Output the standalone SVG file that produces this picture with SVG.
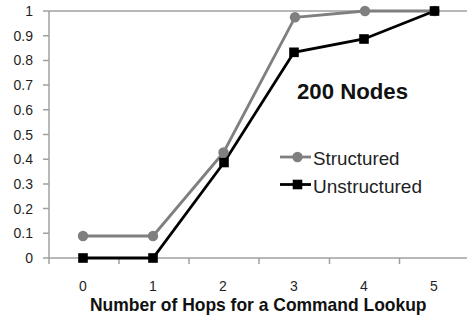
<svg xmlns="http://www.w3.org/2000/svg" width="467" height="321" viewBox="0 0 467 321">
  <defs>
    <style>
      .axis { stroke: #a0a0a0; stroke-width: 1.5; fill: none; }
      .tick { font-family: "Liberation Sans", Arial, sans-serif; font-size: 14px; fill: #1f1f1f; }
      .ytick { text-anchor: end; }
      .xtick { text-anchor: middle; }
      .s-line { stroke: #7f7f7f; stroke-width: 2.8; fill: none; stroke-linejoin: round; }
      .u-line { stroke: #000; stroke-width: 2.8; fill: none; stroke-linejoin: miter; }
      .s-mark { fill: #7f7f7f; }
      .u-mark { fill: #000; }
      .legend-text { font-family: "Liberation Sans", Arial, sans-serif; font-size: 18.6px; fill: #1f1f1f; }
      .bold { font-family: "Liberation Sans", Arial, sans-serif; font-weight: bold; fill: #111; }
    </style>
    <circle id="dot" r="5.2"/>
    <rect id="sq" x="-4.8" y="-4.8" width="9.6" height="9.6"/>
  </defs>

  <rect width="467" height="321" fill="#fff"/>

  <!-- axes, ticks and top border -->
  <g id="axes">
    <line class="axis" x1="43" y1="11" x2="467" y2="11"/>
    <line class="axis" x1="49" y1="11" x2="49" y2="264"/>
    <line class="axis" x1="43" y1="258" x2="467" y2="258"/>
    <path class="axis" d="M43 35.7H49M43 60.4H49M43 85.1H49M43 109.8H49M43 134.5H49M43 159.2H49M43 183.9H49M43 208.6H49M43 233.3H49"/>
    <path class="axis" d="M119 258V264M189 258V264M259 258V264M329.5 258V264M399.5 258V264"/>
  </g>

  <g id="y-labels" class="tick ytick">
    <text x="33" y="16">1</text>
    <text x="33" y="40.7">0.9</text>
    <text x="33" y="65.4">0.8</text>
    <text x="33" y="90.1">0.7</text>
    <text x="33" y="114.8">0.6</text>
    <text x="33" y="139.5">0.5</text>
    <text x="33" y="164.2">0.4</text>
    <text x="33" y="188.9">0.3</text>
    <text x="33" y="213.6">0.2</text>
    <text x="33" y="238.3">0.1</text>
    <text x="33" y="263">0</text>
  </g>

  <g id="x-labels" class="tick xtick">
    <text x="83" y="291">0</text>
    <text x="153" y="291">1</text>
    <text x="223" y="291">2</text>
    <text x="294" y="291">3</text>
    <text x="364" y="291">4</text>
    <text x="434" y="291">5</text>
  </g>

  <!-- data series -->
  <g id="connectors">
    <polyline id="structured-line" class="s-line" points="83,236 153,236 223.5,152.5 295,17.3 365,11 434.5,11"/>
    <polyline id="unstructured-line" class="u-line" points="83,258 153,258 224,162.5 294,52.3 364,39 434.5,11"/>
  </g>

  <g id="structured-points" class="s-mark">
    <use href="#dot" x="83" y="236"/>
    <use href="#dot" x="153" y="236"/>
    <use href="#dot" x="223.5" y="152.5"/>
    <use href="#dot" x="295" y="17.3"/>
    <use href="#dot" x="365" y="11"/>
    <use href="#dot" x="434.5" y="11"/>
  </g>

  <g id="unstructured-points" class="u-mark">
    <use href="#sq" x="83" y="258"/>
    <use href="#sq" x="153" y="258"/>
    <use href="#sq" x="224" y="162.5"/>
    <use href="#sq" x="294" y="52.3"/>
    <use href="#sq" x="364" y="39"/>
    <use href="#sq" x="434.5" y="11"/>
  </g>

  <!-- chart title and legend -->
  <g id="title">
    <text class="bold" x="297" y="99.3" font-size="22" textLength="111" lengthAdjust="spacingAndGlyphs">200 Nodes</text>
  </g>

  <g id="legend">
    <g id="legend-structured">
      <line class="s-line" x1="280" y1="157" x2="311" y2="157"/>
      <use class="s-mark" href="#dot" x="297.5" y="157"/>
      <text class="legend-text" x="313" y="165" textLength="86.5" lengthAdjust="spacingAndGlyphs">Structured</text>
    </g>
    <g id="legend-unstructured">
      <line class="u-line" x1="280" y1="184.5" x2="311" y2="184.5"/>
      <use class="u-mark" href="#sq" x="297.5" y="184.5"/>
      <text class="legend-text" x="313" y="192.5" textLength="109" lengthAdjust="spacingAndGlyphs">Unstructured</text>
    </g>
  </g>

  <g id="x-title">
    <text class="bold" x="90" y="311" font-size="19" textLength="336.5" lengthAdjust="spacingAndGlyphs">Number of Hops for a Command Lookup</text>
  </g>
</svg>
